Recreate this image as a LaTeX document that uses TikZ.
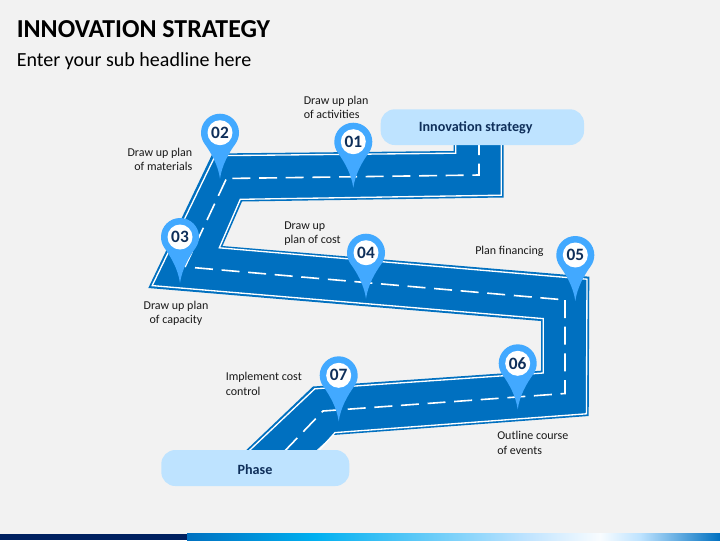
\documentclass[tikz,border=0pt]{standalone}
\usepackage{fontspec}
\setmainfont{Carlito}
\definecolor{bgc}{HTML}{F2F2F2}
\definecolor{roadc}{HTML}{0070C0}
\definecolor{pinc}{HTML}{42A9FF}
\definecolor{pillc}{HTML}{BEE3FF}
\definecolor{navyc}{HTML}{0F2F5A}
\definecolor{barc}{HTML}{002060}
\definecolor{skyc}{HTML}{00B0F0}
\definecolor{pale}{HTML}{F8FCFF}
\tikzset{
  lbl/.style={inner sep=0pt,font=\fontsize{9}{10.8}\selectfont,text=black!90},
  pilltext/.style={inner sep=0pt,font=\fontsize{10.6}{12}\selectfont\bfseries,text=navyc},
  pillbox/.style={fill=pillc,rounded corners=10.5pt},
  numtext/.style={inner sep=0pt,font=\fontsize{13}{14}\selectfont\bfseries,text=navyc},
  pinbody/.style={fill=pinc},
  barpart/.style={draw=none},
  lanemark/.style={white,line width=1.2pt,dash pattern=on 13.5pt off 6.5pt}
}
\newcommand{\pinmark}[4]{%
  \begin{scope}[shift={(#1,#2)}]
    \fill[pinbody] (0,46) .. controls (-2,32) and (-9,20) .. (-15.5,11)
      .. controls (-18,7.5) and (-19,3.5) .. (-19,0)
      .. controls (-19,-10.5) and (-10.5,-19) .. (0,-19)
      .. controls (10.5,-19) and (19,-10.5) .. (19,0)
      .. controls (19,3.5) and (18,7.5) .. (15.5,11)
      .. controls (9,20) and (2,32) .. (0,46) -- cycle;
    \fill[white] (0,0) circle[radius=12.5];
    \node[numtext] (#3) at (0,0) {#4};
  \end{scope}}
\begin{document}
\begin{tikzpicture}[x=0.75pt,y=-0.75pt]
\useasboundingbox (0,0) rectangle (720,540);
\fill[bgc] (0,0) rectangle (720,540);

% bottom bar
\fill[barc] (0,533.5) rectangle (187,540);
\shade[barpart,left color=roadc,right color=skyc] (187,533.5) rectangle (315,540);
\shade[barpart,left color=skyc,right color=pillc] (315,533.5) rectangle (525,540);
\shade[barpart,left color=pillc,right color=pale] (525,533.5) rectangle (600,540);
\shade[barpart,left color=pale,right color=pillc] (600,533.5) rectangle (640,540);
\shade[barpart,left color=pillc,right color=roadc] (640,533.5) rectangle (720,540);

% road
\fill[roadc] (453.5,140) -- (453.5,151) -- (212.5,153.5) -- (148.3,288) -- (541,321)
  -- (541,370.7) -- (313,386.5) -- (240,456) -- (310,456) -- (333,435) -- (588.7,416)
  -- (589.3,276.7) -- (222.5,246) -- (242,201.5) -- (503.5,197.5) -- (503.5,140) -- cycle;
\draw[white,line width=1pt] (455.7,140) -- (455.7,153.2) -- (215.2,155.7) -- (152.2,285.6)
  -- (543.2,318.6) -- (543.2,373) -- (314.8,388.8) -- (243.5,456) -- (314,456) -- (335,432.6)
  -- (586.4,413.8) -- (587,279.2) -- (219.3,247.8) -- (240.3,199.3) -- (501.2,195.2)
  -- (501.2,140) -- cycle;
\draw[lanemark,dash phase=6pt] (479,145) -- (479,175) -- (226,178.5);
\draw[lanemark] (226,179.5) -- (185,267);
\draw[lanemark] (195,267.7) -- (566,300);
\draw[lanemark] (565,300) -- (565,393.5) -- (323,411) -- (280,456);

% pills
\fill[pillbox] (380.7,109.3) rectangle (584,145);
\node[pilltext] (top) at (475.7,128) {Innovation strategy};
\fill[pillbox] (161.3,450) rectangle (349.3,486);
\node[pilltext] (phase) at (255,470) {Phase};

% pins
\pinmark{353.3}{141.7}{p1}{01}
\pinmark{220}{132.7}{p2}{02}
\pinmark{180}{237}{p3}{03}
\pinmark{366}{252.7}{p4}{04}
\pinmark{575.3}{255}{p5}{05}
\pinmark{517.7}{363.3}{p6}{06}
\pinmark{338.7}{375.3}{p7}{07}

% title
\node[inner sep=0pt,anchor=base west,font=\fontsize{19.4}{24}\selectfont\bfseries] (title) at (16.5,37) {INNOVATION STRATEGY};
\node[inner sep=0pt,anchor=base west,font=\fontsize{15}{18}\selectfont] (sub) at (16.5,66) {Enter your sub headline here};

% labels
\node[lbl,align=left,anchor=west] (l1) at (303.5,107.5) {Draw up plan\\of activities};
\node[lbl,align=right,anchor=east] (l2) at (192.5,159.5) {Draw up plan\\of materials};
\node[lbl,align=left,anchor=west] (l4) at (284,233.5) {Draw up\\plan of cost};
\node[lbl,align=center] (l3) at (176,313.5) {Draw up plan\\of capacity};
\node[lbl,anchor=west] (l5) at (475,251.5) {Plan financing};
\node[lbl,align=left,anchor=west] (l6) at (497,443) {Outline course\\of events};
\node[lbl,align=left,anchor=west] (l7) at (225.5,384) {Implement cost\\control};
\end{tikzpicture}
\end{document}
